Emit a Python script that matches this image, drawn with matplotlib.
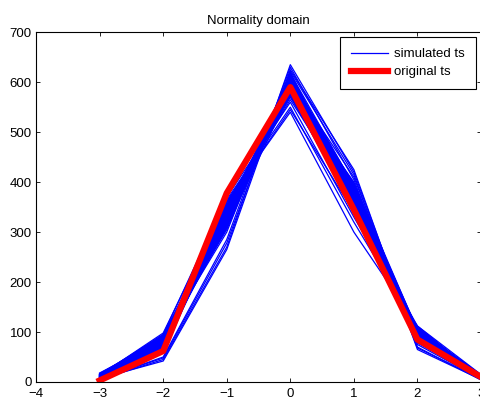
import matplotlib
matplotlib.use("Agg")
import matplotlib.pyplot as plt

plt.rcParams['font.family'] = ['Liberation Sans', 'DejaVu Sans']

x_vals = [-3, -2, -1, 0, 1, 2, 3]
original_ts = [3, 62, 378, 590, 345, 85, 10]

simulated_ts = [
    [12, 80, 330, 600, 370, 95, 10],
    [8, 70, 340, 590, 380, 90, 8],
    [15, 90, 300, 620, 360, 100, 12],
    [5, 45, 270, 635, 420, 75, 6],
    [10, 95, 370, 560, 330, 110, 9],
    [18, 85, 320, 610, 390, 105, 14],
    [6, 60, 350, 580, 400, 80, 5],
    [11, 75, 315, 605, 375, 92, 11],
    [9, 88, 345, 570, 365, 98, 7],
    [14, 78, 310, 615, 385, 85, 13],
    [7, 42, 265, 625, 425, 70, 4],
    [13, 98, 360, 545, 340, 112, 15],
    [10, 72, 335, 595, 355, 88, 10],
    [16, 82, 325, 590, 395, 102, 8],
    [8, 66, 355, 575, 345, 95, 12],
    [12, 92, 305, 600, 410, 82, 9],
    [5, 50, 285, 630, 405, 68, 6],
    [15, 86, 365, 550, 320, 108, 13],
    [9, 76, 330, 612, 372, 90, 7],
    [11, 68, 348, 585, 362, 100, 11],
    [13, 94, 318, 598, 388, 78, 10],
    [7, 58, 342, 605, 350, 96, 8],
    [17, 84, 312, 580, 398, 104, 14],
    [10, 74, 352, 565, 368, 86, 9],
    [6, 48, 278, 622, 415, 65, 5],
    [14, 90, 338, 592, 335, 106, 12],
    [9, 80, 322, 608, 378, 93, 10],
    [12, 64, 362, 540, 300, 112, 7],
    [8, 70, 328, 618, 392, 84, 11],
    [11, 86, 344, 588, 358, 99, 9],
    [13, 83, 326, 603, 382, 97, 12],
    [10, 77, 334, 597, 366, 91, 9],
    [16, 92, 308, 612, 380, 101, 13],
    [7, 62, 346, 583, 376, 87, 6],
    [12, 88, 332, 594, 386, 94, 10],
    [9, 73, 358, 572, 352, 103, 11],
    [15, 81, 316, 609, 394, 89, 12],
    [11, 79, 341, 586, 369, 96, 8],
    [8, 67, 324, 614, 383, 83, 10],
    [14, 95, 336, 578, 361, 107, 13],
    [10, 71, 349, 591, 374, 92, 9],
    [12, 84, 319, 606, 389, 98, 11],
    [9, 78, 339, 584, 371, 95, 10],
    [13, 87, 327, 601, 379, 100, 12],
    [11, 73, 343, 593, 363, 90, 8],
    [15, 91, 313, 611, 387, 103, 14],
    [8, 69, 353, 577, 357, 88, 7],
    [12, 82, 329, 599, 381, 97, 11],
    [10, 85, 337, 587, 373, 94, 10],
    [14, 76, 321, 604, 384, 99, 12],
]

fig = plt.figure(figsize=(4.81, 4.0), dpi=100)
ax = fig.add_axes([0.075, 0.045, 0.925, 0.8745])

for i, s in enumerate(simulated_ts):
    ax.plot(x_vals, s, color="#0000ff", linewidth=0.9,
            label="simulated ts" if i == 0 else None)
ax.plot(x_vals, original_ts, color="#ff0000", linewidth=4.5, label="original ts")

ax.set_xlim(-4, 3)
ax.set_ylim(0, 700)
ax.set_xticks(range(-4, 4))
ax.set_yticks(range(0, 701, 100))
ax.tick_params(direction="in", length=3, width=0.6, labelsize=9.5,
               top=True, right=True, pad=3)
ax.tick_params(axis="x", pad=4)
for sp in ax.spines.values():
    sp.set_linewidth(0.8)
ax.set_title("Normality domain", fontsize=9.5, pad=6)

leg = ax.legend(loc="upper right", fontsize=9.5, fancybox=False, framealpha=1,
                edgecolor="black", borderaxespad=0.4, handlelength=2.8,
                borderpad=0.8, labelspacing=0.45, handletextpad=0.5)
leg.get_frame().set_linewidth(0.8)

fig.savefig("out.png", dpi=100)
